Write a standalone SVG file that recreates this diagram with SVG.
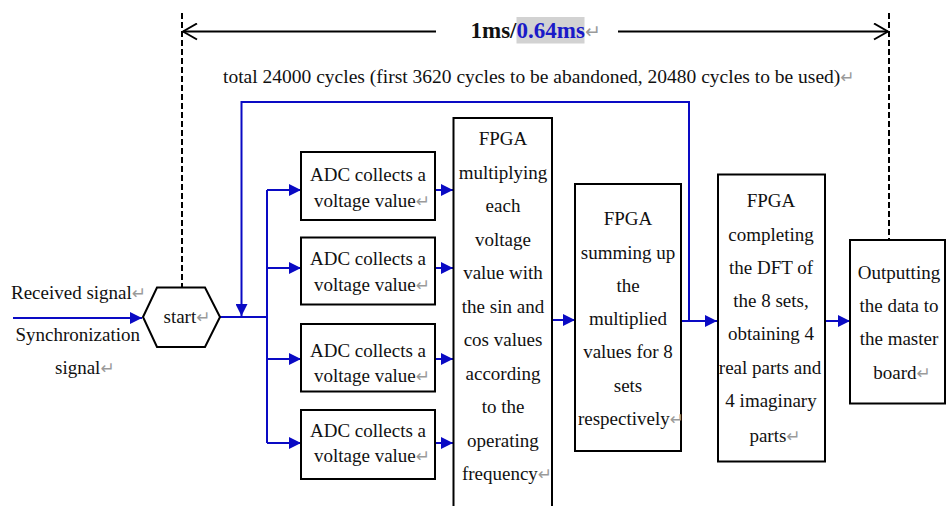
<svg xmlns="http://www.w3.org/2000/svg" width="946" height="506" viewBox="0 0 946 506">
  <style>
    text { font-family: "Liberation Serif", "Times New Roman", serif; font-size: 19px; fill: #111; }
    .c { text-anchor: middle; }
    .ret { font-family: "DejaVu Sans", sans-serif; font-size: 17px; fill: #9a9a9a; }
    .box { fill: #fff; stroke: #000; stroke-width: 2; }
    .flow { fill: none; stroke: #0a0ac4; stroke-width: 2; }
    .dash { fill: none; stroke: #000; stroke-width: 2; stroke-dasharray: 6 3; }
    .dim { fill: none; stroke: #000; stroke-width: 2; }
  </style>
  <defs>
    <marker id="arrow" viewBox="0 0 10 10" refX="10" refY="5" markerWidth="13" markerHeight="12" markerUnits="userSpaceOnUse" orient="auto">
      <path d="M0,0 L10,5 L0,10 z" fill="#0a0ac4"/>
    </marker>
    <marker id="chevron" viewBox="0 0 16 18" refX="15" refY="9" markerWidth="16" markerHeight="18" markerUnits="userSpaceOnUse" orient="auto-start-reverse">
      <path d="M1,1 L15,9 L1,17" fill="none" stroke="#000" stroke-width="2"/>
    </marker>
  </defs>

  <rect width="946" height="506" fill="#fff"/>

  <!-- timing span -->
  <g id="timing">
    <path class="dash" d="M182,13 V287"/>
    <path class="dash" d="M889,13 V240"/>
    <path class="dim" d="M436,31.5 H183" marker-end="url(#chevron)"/>
    <path class="dim" d="M618,31.5 H888" marker-end="url(#chevron)"/>
    <rect x="516.5" y="17" width="68" height="26.5" fill="#d2d2d2"/>
    <text x="470.5" y="37.5" style="font-size:23px;font-weight:bold">1ms/<tspan fill="#1a1ac8">0.64ms</tspan><tspan class="ret" style="font-weight:normal;font-size:19px">↵</tspan></text>
    <text x="223" y="83" style="font-size:19.5px">total 24000 cycles (first 3620 cycles to be abandoned, 20480 cycles to be used)<tspan class="ret">↵</tspan></text>
  </g>

  <!-- connectors -->
  <g id="connectors">
    <path class="flow" d="M13,318 H142" marker-end="url(#arrow)"/>
    <path class="flow" d="M220,317 H267"/>
    <path class="flow" d="M267,190 V443"/>
    <path class="flow" d="M267,190 H301" marker-end="url(#arrow)"/>
    <path class="flow" d="M267,268 H301" marker-end="url(#arrow)"/>
    <path class="flow" d="M267,359 H301" marker-end="url(#arrow)"/>
    <path class="flow" d="M267,443 H301" marker-end="url(#arrow)"/>
    <path class="flow" d="M435,190 H453" marker-end="url(#arrow)"/>
    <path class="flow" d="M435,268 H453" marker-end="url(#arrow)"/>
    <path class="flow" d="M435,359 H453" marker-end="url(#arrow)"/>
    <path class="flow" d="M435,443 H453" marker-end="url(#arrow)"/>
    <path class="flow" d="M552,320 H575" marker-end="url(#arrow)"/>
    <path class="flow" d="M681,321 H717" marker-end="url(#arrow)"/>
    <path class="flow" d="M689,321 V102 H241.5 V316" marker-end="url(#arrow)"/>
    <path class="flow" d="M825,321 H850" marker-end="url(#arrow)"/>
  </g>

  <!-- inputs -->
  <g id="inputs">
    <text x="11" y="298.5">Received signal<tspan class="ret">↵</tspan></text>
    <text x="15.5" y="340.5">Synchronization</text>
    <text x="55" y="374">signal<tspan class="ret">↵</tspan></text>
  </g>

  <g id="start">
    <polygon class="box" points="143,317 157,287.5 205,287.5 220,317 205,347 157,347"/>
    <text class="c" x="187" y="323">start<tspan class="ret">↵</tspan></text>
  </g>

  <g id="adc1">
    <rect class="box" x="301" y="152" width="134" height="68"/>
    <text class="c" x="368" y="180.5">ADC collects a</text>
    <text class="c" x="372" y="207">voltage value<tspan class="ret">↵</tspan></text>
  </g>
  <g id="adc2">
    <rect class="box" x="301" y="237.5" width="134" height="67"/>
    <text class="c" x="368" y="264.5">ADC collects a</text>
    <text class="c" x="372" y="290.5">voltage value<tspan class="ret">↵</tspan></text>
  </g>
  <g id="adc3">
    <rect class="box" x="301" y="324" width="134" height="67.5"/>
    <text class="c" x="368" y="356.5">ADC collects a</text>
    <text class="c" x="372" y="382">voltage value<tspan class="ret">↵</tspan></text>
  </g>
  <g id="adc4">
    <rect class="box" x="301" y="410" width="134" height="69"/>
    <text class="c" x="368" y="437">ADC collects a</text>
    <text class="c" x="372" y="462">voltage value<tspan class="ret">↵</tspan></text>
  </g>

  <g id="multiply">
    <rect class="box" x="453.5" y="118" width="98.5" height="392"/>
    <text class="c" x="503" y="145">FPGA</text>
    <text class="c" x="503" y="178.5">multiplying</text>
    <text class="c" x="503" y="212">each</text>
    <text class="c" x="503" y="245.5">voltage</text>
    <text class="c" x="503" y="279">value with</text>
    <text class="c" x="503" y="312.5">the sin and</text>
    <text class="c" x="503" y="346">cos values</text>
    <text class="c" x="503" y="379.5">according</text>
    <text class="c" x="503" y="413">to the</text>
    <text class="c" x="503" y="446.5">operating</text>
    <text class="c" x="507" y="480">frequency<tspan class="ret">↵</tspan></text>
  </g>

  <g id="sum">
    <rect class="box" x="575" y="184" width="106" height="267"/>
    <text class="c" x="628" y="225">FPGA</text>
    <text class="c" x="628" y="258.5">summing up</text>
    <text class="c" x="628" y="291.5">the</text>
    <text class="c" x="628" y="325">multiplied</text>
    <text class="c" x="628" y="358">values for 8</text>
    <text class="c" x="628" y="391.5">sets</text>
    <text class="c" x="631" y="425">respectively<tspan class="ret">↵</tspan></text>
  </g>

  <g id="dft">
    <rect class="box" x="718" y="174.5" width="107" height="287"/>
    <text class="c" x="771" y="207">FPGA</text>
    <text class="c" x="771" y="240.5">completing</text>
    <text class="c" x="771" y="273.5">the DFT of</text>
    <text class="c" x="771" y="307">the 8 sets,</text>
    <text class="c" x="771" y="340">obtaining 4</text>
    <text class="c" x="770" y="373.5">real parts and</text>
    <text class="c" x="771" y="407">4 imaginary</text>
    <text class="c" x="775" y="441.5">parts<tspan class="ret">↵</tspan></text>
  </g>

  <g id="output">
    <rect class="box" x="850" y="240" width="95" height="163.5"/>
    <text class="c" x="899" y="278.5">Outputting</text>
    <text class="c" x="899" y="312">the data to</text>
    <text class="c" x="899" y="345">the master</text>
    <text class="c" x="902" y="378.5">board<tspan class="ret">↵</tspan></text>
  </g>
</svg>
